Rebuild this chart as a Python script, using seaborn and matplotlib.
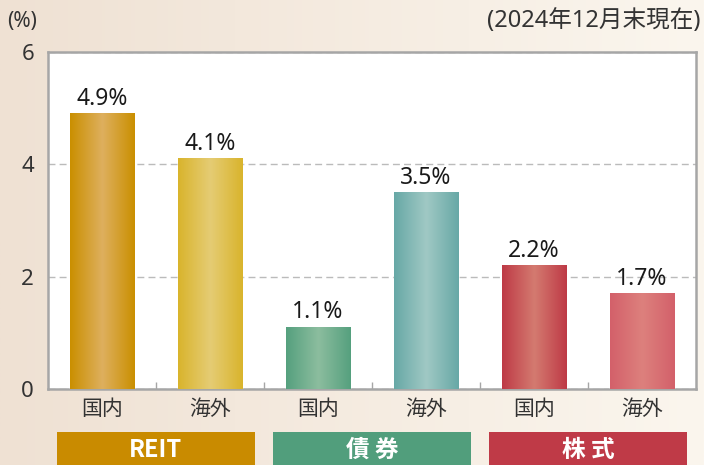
import numpy as np
import pandas as pd
import seaborn as sns
import matplotlib.pyplot as plt
from matplotlib.colors import LinearSegmentedColormap
from matplotlib.patches import Rectangle
from matplotlib.transforms import blended_transform_factory

groups = ["REIT", "債 券", "株 式"]
regions = ["国内", "海外", "国内", "海外", "国内", "海外"]
values = [4.9, 4.1, 1.1, 3.5, 2.2, 1.7]
bar_edge = ["#CA8F00", "#D9B42C", "#55A07E", "#67A8A6", "#BE3A46", "#D3606A"]
bar_mid = ["#DEAF5E", "#E5CC74", "#8CBD9F", "#A0C8C4", "#D47A70", "#DD807D"]
group_colors = ["#C98B00", "#519E7C", "#BF3A47"]
yticks = [0, 2, 4, 6]

sns.set_theme(style="white")
plt.rcParams["font.family"] = ["Noto Sans", "Noto Sans CJK JP", "DejaVu Sans"]

fig = plt.figure(figsize=(7.04, 4.65), dpi=100)

# beige gradient background
bg = fig.add_axes([0, 0, 1, 1], zorder=-10)
bg_cmap = LinearSegmentedColormap.from_list("bg", ["#EFE1D3", "#FBF6EE"])
bg.imshow(np.linspace(0, 1, 256).reshape(1, -1), cmap=bg_cmap,
          aspect="auto", extent=[0, 1, 0, 1])
bg.axis("off")

ax = fig.add_axes([48 / 704, 1 - 389 / 465, 648 / 704, 337 / 465])
ax.set_facecolor("white")

df = pd.DataFrame({"slot": [str(i) for i in range(len(values))], "value": values})
sns.barplot(data=df, x="slot", y="value", hue="slot", palette=bar_edge,
            width=0.6, legend=False, ax=ax, zorder=3)

# shiny gradient on each bar
grad = np.linspace(0, 1, 256).reshape(1, -1)
for patch, c0, c1 in zip(ax.patches, bar_edge, bar_mid):
    x0, w, h = patch.get_x(), patch.get_width(), patch.get_height()
    cmap = LinearSegmentedColormap.from_list("bar", [c0, c1, c0])
    ax.imshow(grad, cmap=cmap, aspect="auto",
              extent=[x0, x0 + w, 0, h], zorder=4)

for cont in ax.containers:
    ax.bar_label(cont, fmt="%.1f%%", padding=2, fontsize=16.5, color="#1a1a1a")

ax.set_xlim(-0.5, 5.5)
ax.set_ylim(0, 6)
ax.set_yticks(yticks)
ax.set_xticks(range(len(regions)))
ax.set_xticklabels(regions)
ax.set_xticks([0.5, 1.5, 2.5, 3.5, 4.5], minor=True)
ax.tick_params(axis="y", length=0, pad=10, labelsize=16, labelcolor="#333333")
ax.tick_params(axis="x", which="major", length=0, pad=7, labelsize=15,
               labelcolor="#333333")
ax.tick_params(axis="x", which="minor", direction="in", length=5,
               width=1, color="#A6A6A6", bottom=True)
ax.set_xlabel("")
ax.set_ylabel("")
ax.yaxis.grid(True, linestyle=(0, (5, 3)), color="#BBBBBB", linewidth=1)
ax.set_axisbelow(True)
for s in ax.spines.values():
    s.set_color("#A6A6A6")
    s.set_linewidth(1.8)

# group boxes under the axis
trans = blended_transform_factory(ax.transData, fig.transFigure)
for i, (g, c) in enumerate(zip(groups, group_colors)):
    xc = 0.5 + 2 * i
    ax.add_patch(Rectangle((xc - 0.92, 0), 1.84, 33 / 465, transform=trans,
                           facecolor=c, edgecolor="none", clip_on=False))
    ax.text(xc, 15.5 / 465, g, transform=trans, ha="center", va="center",
            color="white", fontsize=17, fontweight="bold",
            family=["Noto Sans CJK JP", "DejaVu Sans"])

fig.text(22 / 704, 1 - 22 / 465, "(%)", ha="center", va="center",
         fontsize=15, color="#333333")
fig.text(700 / 704, 1 - 21 / 465, "(2024年12月末現在)", ha="right",
         va="center", fontsize=17, color="#333333")

fig.savefig("out.png", dpi=100)
